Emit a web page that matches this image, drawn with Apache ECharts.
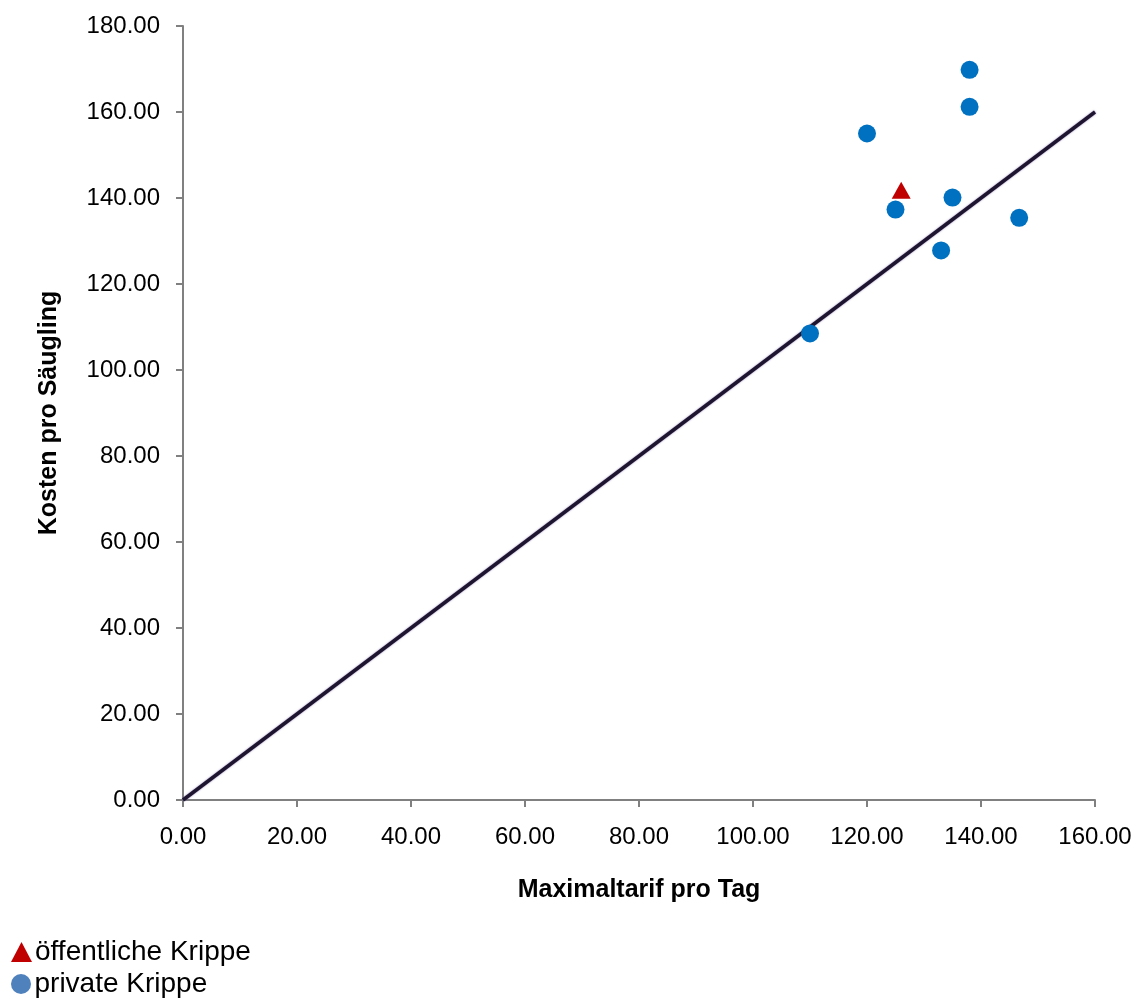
<!DOCTYPE html>
<html>
<head>
<meta charset="utf-8">
<script src="https://cdn.jsdelivr.net/npm/echarts@6/dist/echarts.min.js"></script>
<style>
html, body { margin: 0; padding: 0; background: #fff; }
#chart { width: 1142px; height: 998px; }
</style>
</head>
<body>
<div id="chart"></div>
<script>
const publicTarif = [126]
const publicKosten = [141.8]
const privateTarif = [110, 120, 125, 133, 135, 138, 138, 146.7]
const privateKosten = [108.5, 155, 137.3, 127.8, 140.1, 161.2, 169.8, 135.4]
const diagonal = [[0, 0], [160, 160]]
const axisTicks = { min: 0, max: 160, yMax: 180, interval: 20 }

const chart = echarts.init(document.getElementById('chart'))
const font = 'Liberation Sans, Arial, sans-serif'

// one legend per row, the bottom strip is too short for a vertical legend
const legendBase = {
    left: 11,
    padding: 0,
    itemWidth: 21,
    itemHeight: 20,
    textStyle: { fontSize: 28, color: '#000', fontFamily: font, padding: [0, 0, 0, -2] }
}

chart.setOption({
    animation: false,
    textStyle: { fontFamily: font },
    grid: { left: 183, right: 47, top: 26, bottom: 198 },
    legend: [
        Object.assign({}, legendBase, {
            top: 938,
            data: [{ name: 'öffentliche Krippe', icon: 'triangle', itemStyle: { color: '#c00000' } }]
        }),
        Object.assign({}, legendBase, {
            top: 970,
            data: [{ name: 'private Krippe', icon: 'circle', itemStyle: { color: '#4f81bd' } }]
        })
    ],
    xAxis: {
        type: 'value',
        min: axisTicks.min,
        max: axisTicks.max,
        interval: axisTicks.interval,
        name: 'Maximaltarif pro Tag',
        nameLocation: 'middle',
        nameGap: 78,
        nameTextStyle: { fontSize: 25, fontWeight: 'bold', color: '#000' },
        axisLine: { lineStyle: { color: '#808080', width: 2 } },
        axisTick: { length: 7, lineStyle: { color: '#808080', width: 2 } },
        axisLabel: { fontSize: 24, color: '#000', margin: 25, formatter: v => v.toFixed(2) },
        splitLine: { show: false }
    },
    yAxis: {
        type: 'value',
        min: axisTicks.min,
        max: axisTicks.yMax,
        interval: axisTicks.interval,
        name: 'Kosten pro Säugling',
        nameLocation: 'middle',
        nameGap: 121,
        nameTextStyle: { fontSize: 25, fontWeight: 'bold', color: '#000' },
        axisLine: { show: true, lineStyle: { color: '#808080', width: 2 } },
        axisTick: { show: true, length: 7, lineStyle: { color: '#808080', width: 2 } },
        axisLabel: { fontSize: 24, color: '#000', margin: 23, formatter: v => v.toFixed(2) },
        splitLine: { show: false }
    },
    series: [
        {
            name: 'diagonal',
            type: 'line',
            data: diagonal,
            symbol: 'none',
            lineStyle: { color: '#1e1530', width: 3.5, shadowColor: 'rgba(90,60,140,0.6)', shadowBlur: 2 },
            z: 1
        },
        {
            name: 'öffentliche Krippe',
            type: 'scatter',
            symbol: 'triangle',
            symbolSize: [19, 17],
            itemStyle: { color: '#c00000', opacity: 1 },
            data: publicTarif.map((x, i) => [x, publicKosten[i]]),
            z: 3
        },
        {
            name: 'private Krippe',
            type: 'scatter',
            symbol: 'circle',
            symbolSize: 18,
            itemStyle: { color: '#0070c0', opacity: 1 },
            data: privateTarif.map((x, i) => [x, privateKosten[i]]),
            z: 3
        }
    ]
})
</script>
</body>
</html>
